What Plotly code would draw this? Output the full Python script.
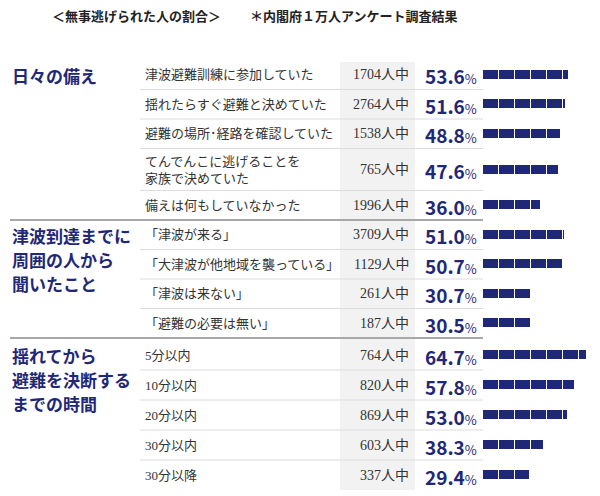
import plotly.graph_objects as go

# ---------------- data ----------------
title_left = "＜無事逃げられた人の割合＞"
title_right = "＊内閣府１万人アンケート調査結果"

section_titles = [
    ["日々の備え"],
    ["津波到達までに", "周囲の人から", "聞いたこと"],
    ["揺れてから", "避難を決断する", "までの時間"],
]

labels_1 = ["津波避難訓練に参加していた", "揺れたらすぐ避難と決めていた", "避難の場所･経路を確認していた",
            "てんでんこに逃げることを<br>家族で決めていた", "備えは何もしていなかった"]
counts_1 = [1704, 2764, 1538, 765, 1996]
pcts_1 = [53.6, 51.6, 48.8, 47.6, 36.0]

labels_2 = ["「津波が来る」", "「大津波が他地域を襲っている」", "「津波は来ない」", "「避難の必要は無い」"]
counts_2 = [3709, 1129, 261, 187]
pcts_2 = [51.0, 50.7, 30.7, 30.5]

labels_3 = ["5分以内", "10分以内", "20分以内", "30分以内", "30分以降"]
counts_3 = [764, 820, 869, 603, 337]
pcts_3 = [64.7, 57.8, 53.0, 38.3, 29.4]

sections = [(labels_1, counts_1, pcts_1), (labels_2, counts_2, pcts_2), (labels_3, counts_3, pcts_3)]

# ---------------- layout constants ----------------
W, H = 600, 496
NAVY = "#1f2877"
SECTION_TOPS = [60, 220, 340]
ROW_H = [[29.5, 29.5, 29.5, 42, 29.5], [29.5, 29.5, 29.5, 29.5], [30, 30, 30, 30, 30]]
BAR_X0 = 483           # pixel where the bars start
PX_PER_PCT = 1.6
BLOCK = 10             # each bar block is 10 %
LABEL_X, COUNT_X, PCT_X = 143, 411, 479
HEAD_X, HEAD_LINE = 10, 24
SERIF = "Liberation Serif, Noto Sans CJK JP, serif"
GOTHIC = "Noto Sans CJK JP, sans-serif"

fig = go.Figure()
shapes, annotations = [], []

# grey column behind counts
shapes.append(dict(type="rect", xref="x", yref="y", x0=340, x1=415, y0=62, y1=490,
                   fillcolor="#f2f2f2", line_width=0, layer="below"))

all_y, all_p = [], []
for si, (labels, counts, pcts) in enumerate(sections):
    top = SECTION_TOPS[si]
    y = top
    for ri, (lab, cnt, p) in enumerate(zip(labels, counts, pcts)):
        h = ROW_H[si][ri]
        yc = y + h / 2
        all_y.append(yc)
        all_p.append(p)
        annotations.append(dict(x=LABEL_X, y=yc, text=lab, xanchor="left", yanchor="middle",
                                showarrow=False, align="left",
                                font=dict(family=SERIF, size=13, color="#333333")))
        annotations.append(dict(x=COUNT_X, y=yc, text=f"{cnt}人中", xanchor="right", yanchor="middle",
                                showarrow=False, font=dict(family=SERIF, size=14, color="#333333")))
        annotations.append(dict(x=PCT_X, y=yc + 1,
                                text=f"<b>{p:.1f}</b><span style='font-size:13px'>%</span>",
                                xanchor="right", yanchor="middle", showarrow=False,
                                font=dict(family=GOTHIC, size=19, color=NAVY)))
        y += h
        if ri < len(labels) - 1:
            shapes.append(dict(type="line", xref="x", yref="y", x0=140, x1=590, y0=y, y1=y,
                               line=dict(color="#dcdcdc", width=1), layer="below"))
    if si < len(sections) - 1:
        shapes.append(dict(type="line", xref="x", yref="y", x0=10, x1=590, y0=y, y1=y,
                           line=dict(color="#a8a8a8", width=2), layer="below"))
    # section title
    for li, line in enumerate(section_titles[si]):
        annotations.append(dict(x=HEAD_X, y=top + 15 + li * HEAD_LINE, text=f"<b>{line}</b>",
                                xanchor="left", yanchor="middle", showarrow=False,
                                font=dict(family=GOTHIC, size=17, color=NAVY)))

# segmented bars: stacked blocks of 10 %
n_blocks = 7
for k in range(n_blocks):
    seg = [min(BLOCK, max(0.0, p - BLOCK * k)) for p in all_p]
    fig.add_trace(go.Bar(x=seg, y=all_y, orientation="h", width=10,
                         marker=dict(color=NAVY, line=dict(color="white", width=1)),
                         xaxis="x2", yaxis="y", showlegend=False, hoverinfo="skip"))

annotations.append(dict(x=50, y=15, text=f"<b>{title_left}</b>", xanchor="left", yanchor="middle",
                        showarrow=False, font=dict(family=GOTHIC, size=13, color="#222222")))
annotations.append(dict(x=248, y=15, text=f"<b>{title_right}</b>", xanchor="left", yanchor="middle",
                        showarrow=False, font=dict(family=GOTHIC, size=13, color="#222222")))

fig.update_layout(
    width=W, height=H, margin=dict(l=0, r=0, t=0, b=0),
    paper_bgcolor="white", plot_bgcolor="white",
    barmode="stack", bargap=0,
    xaxis=dict(range=[0, W], visible=False, fixedrange=True, domain=[0, 1], anchor="y"),
    xaxis2=dict(range=[0, (W - BAR_X0) / PX_PER_PCT], domain=[BAR_X0 / W, 1], visible=False,
                anchor="y", fixedrange=True),
    yaxis=dict(range=[H, 0], visible=False, fixedrange=True, domain=[0, 1]),
    shapes=shapes, annotations=annotations,
)

fig.write_html("out.html", config={"displayModeBar": False},
               post_script="document.body.style.margin='0px';")
